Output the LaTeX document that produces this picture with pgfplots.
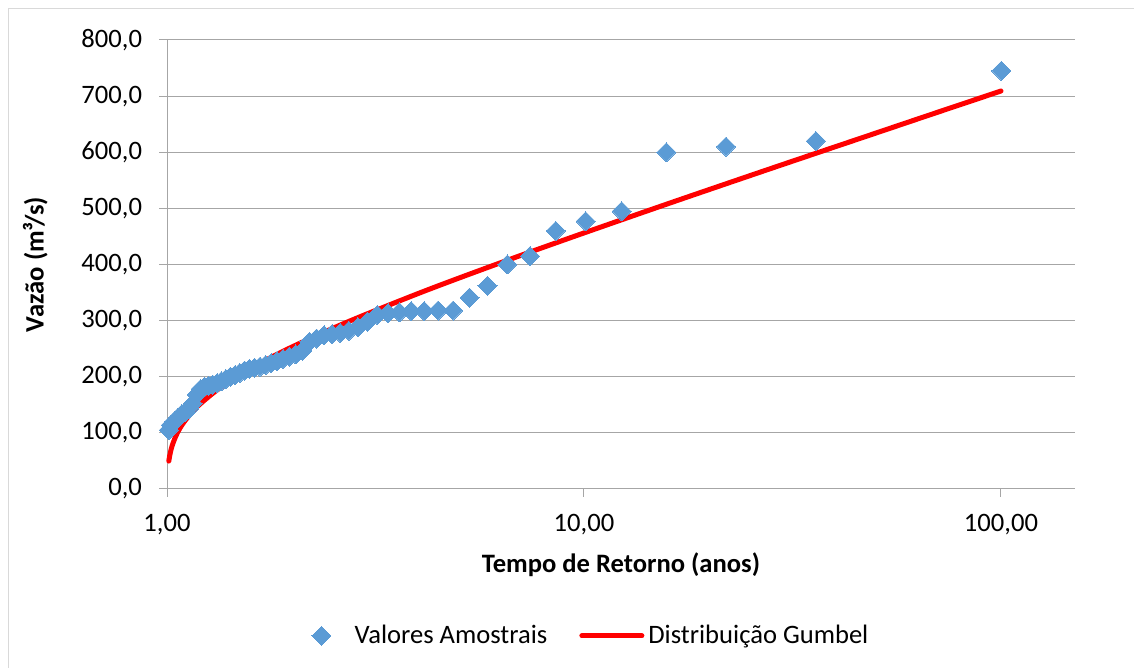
\documentclass[border=0pt]{standalone}
\usepackage{pgfplots}
\pgfplotsset{compat=1.18}
\usepackage{fontspec}
\setmainfont{Carlito}
\definecolor{ptblue}{HTML}{5B9BD5}
\definecolor{gridc}{RGB}{166,166,166}
\definecolor{framec}{RGB}{217,217,217}
\pgfplotsset{
  linelegend/.style={legend image code/.code={\draw[##1] (0pt,0pt) -- (30pt,0pt);}},
  marklegend/.style={legend image code/.code={\draw[##1] plot coordinates {(0pt,0pt)}; \path[draw=none,fill=none] (-5pt,0pt) rectangle (14.6pt,0.1pt);}}
}
\begin{document}
\begin{tikzpicture}
\useasboundingbox (0pt,0pt) rectangle (567pt,334pt);
\draw[framec, line width=0.5pt] (4pt,-10pt) rectangle (600pt,329.5pt);
\begin{axis}[
  at={(83.5pt,89.5pt)}, anchor=south west,
  scale only axis, width=454pt, height=224.5pt,
  xmode=log, xmin=1, xmax=150.5, ymin=0, ymax=800,
  axis x line=bottom, axis y line=left,
  axis line style={-, gridc, line width=0.5pt},
  xtick={1,10,100}, xticklabels={{1,00},{10,00},{100,00}},
  ytick={0,100,200,300,400,500,600,700,800},
  yticklabels={{0,0},{100,0},{200,0},{300,0},{400,0},{500,0},{600,0},{700,0},{800,0}},
  xminorticks=false,
  tick align=outside, major tick length=4pt,
  tick style={gridc, line width=0.5pt},
  ymajorgrids, grid style={gridc, line width=0.5pt},
  ticklabel style={font=\fontsize{13.3}{16}\selectfont, text=black},
  xticklabel shift=5pt, yticklabel shift=5pt,
  xlabel={\textbf{Tempo de Retorno (anos)}},
  ylabel={\textbf{Vazão (m³/s)}},
  label style={font=\fontsize{13.3}{16}\selectfont},
  xlabel style={at={(axis description cs:0.5,-0.169)}, anchor=center},
  ylabel style={at={(axis description cs:-0.145,0.5)}, anchor=center},
  legend style={at={(axis description cs:0.468,-0.327)}, anchor=center, draw=none, fill=none,
    font=\fontsize{13.3}{16}\selectfont, /tikz/every even column/.append style={column sep=14pt}},
  legend columns=2, legend cell align=left,
  clip=false,
]
\addplot[only marks, color=ptblue, mark=square*, mark size=3.36pt,
  mark options={rotate=45, fill=ptblue, draw=ptblue, line width=0pt}, marklegend]
coordinates {
(100.21,745) (35.97,620) (21.92,610) (15.76,600) (12.31,495) (10.09,477)
(8.555,460) (7.423,415) (6.549,400) (5.870,362) (5.316,341) (4.857,318)
(4.470,318) (4.139,317) (3.854,317) (3.607,315) (3.389,313) (3.196,310)
(3.025,298) (2.869,288) (2.729,282) (2.603,278) (2.488,276) (2.382,274)
(2.285,268) (2.196,262) (2.113,246) (2.036,240) (1.965,236) (1.898,232)
(1.836,228) (1.778,224) (1.724,221) (1.672,218) (1.623,216) (1.578,214)
(1.535,211) (1.494,207) (1.456,203) (1.419,200) (1.384,196) (1.350,192)
(1.318,188) (1.288,186) (1.259,184) (1.231,182) (1.204,178) (1.178,168)
(1.153,152) (1.129,143) (1.106,138) (1.084,133) (1.062,127) (1.042,121)
(1.022,114) (1.010,105)
};
\addlegendentry{Valores Amostrais}
\addplot[red, line width=2.5pt, line cap=round, line join=round, smooth, linelegend]
coordinates {
(1.0101,49.8) (1.015,59.3) (1.02,66.8) (1.03,78.2) (1.05,94.3) (1.07,106.2)
(1.1,120.0) (1.15,137.6) (1.2,151.3) (1.3,172.9) (1.4,189.8) (1.5,204.0)
(1.7,227.0) (2,253.5) (2.5,286.4) (3,311.2) (4,348.2) (5,375.5) (7,415.3)
(10,456.2) (15,501.8) (20,533.7) (30,578.3) (50,633.9) (70,670.5) (100,709.1)
};
\addlegendentry{Distribuição Gumbel}
\end{axis}
\end{tikzpicture}
\end{document}
